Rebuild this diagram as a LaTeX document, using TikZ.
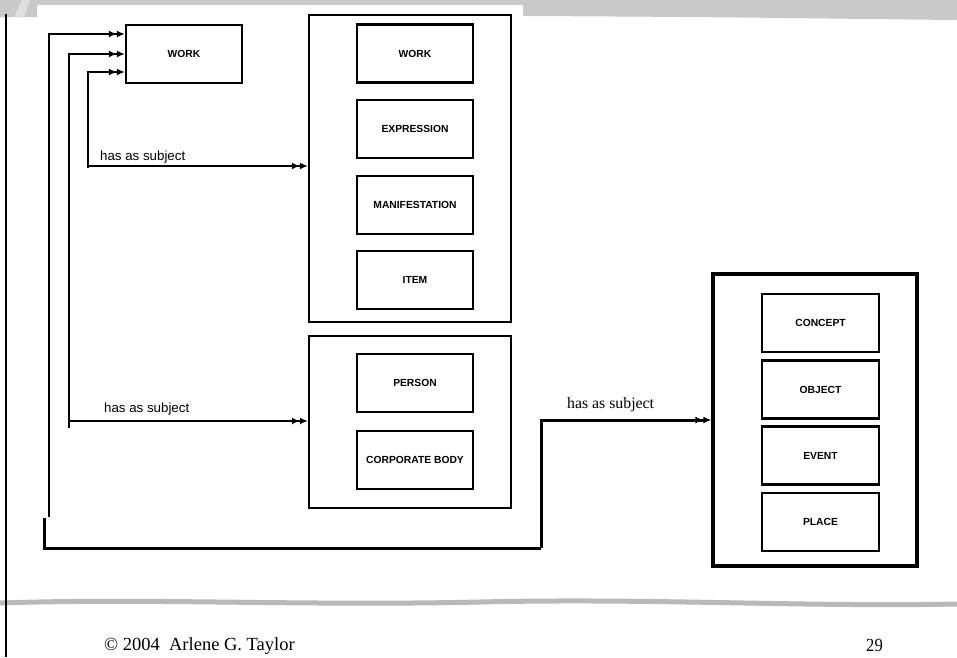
\documentclass[tikz,border=0pt]{standalone}
\usepackage{fontspec}
\setmainfont{Liberation Serif}
\newfontfamily\arialf{Liberation Sans}
\usetikzlibrary{arrows.meta}
\tikzset{
  ent/.style={draw, line width=2.2pt, inner sep=0pt, minimum width=116pt, minimum height=58pt,
    font=\arialf\bfseries\fontsize{10.3}{12}\selectfont},
  grp/.style={draw, line width=2.2pt, inner sep=0pt},
  grpthick/.style={draw, line width=3.2pt, inner sep=0pt},
  conn/.style={line width=2.2pt},
  arr/.style={line width=2.2pt, -{Latex[length=8pt,width=7pt,sep=0pt]Latex[length=8pt,width=7pt]}},
  arrthick/.style={line width=3pt, -{Latex[length=8pt,width=7pt,sep=0pt]Latex[length=8pt,width=7pt]}},
  lblsans/.style={font=\arialf\fontsize{13.3}{15}\selectfont, inner sep=0pt},
  lblserif/.style={font=\fontsize{15.8}{18}\selectfont, inner sep=0pt},
  foot/.style={font=\fontsize{18.5}{21}\selectfont, inner sep=0pt}
}
\begin{document}
\begin{tikzpicture}[x=1pt,y=-1pt]
\useasboundingbox (0,0) rectangle (957,657);
\fill[white] (0,0) rectangle (957,657);
% top decorative band
\fill[gray!42] (0,0) -- (957,0) -- (957,20) .. controls (850,19) and (750,17) .. (523,16) -- (523,5) -- (37,5) -- (37,17) -- (0,17) -- cycle;
\fill[gray!25] (14,17) -- (22,0) -- (30,0) -- (24,17) -- cycle;
% bottom decorative band
\draw[gray!55, line width=5pt, line cap=round]
  (0,603) .. controls (150,598) and (300,606) .. (480,602)
  .. controls (650,598) and (800,607) .. (957,604);
% left border
\draw[black, line width=2pt] (6,14) -- (6,657);

% entities
\node[ent] (work0) at (184,54) {WORK};

\node[grp, minimum width=202pt, minimum height=307pt] (g1) at (410,168.5) {};
\node[ent] (w1) at (415,53.5) {WORK};
\node[ent] (expr) at (415,129) {EXPRESSION};
\node[ent] (manif) at (415,205) {MANIFESTATION};
\node[ent] (item) at (415,280) {ITEM};

\node[grp, minimum width=202pt, minimum height=172pt] (g2) at (410,422) {};
\node[ent] (person) at (415,383) {PERSON};
\node[ent] (corp) at (415,460) {CORPORATE BODY};

\node[grpthick, minimum width=204pt, minimum height=292pt] (g3) at (815,420) {};
\node[ent, minimum width=117pt] (concept) at (820.5,323) {CONCEPT};
\node[ent, minimum width=117pt] (object) at (820.5,389.5) {OBJECT};
\node[ent, minimum width=117pt] (event) at (820.5,455.5) {EVENT};
\node[ent, minimum width=117pt] (place) at (820.5,522) {PLACE};

% connector coordinates
\coordinate (s1) at (49,517);
\coordinate (s2) at (69,428);
\coordinate (s3) at (88,168);
\coordinate (j2) at (69,421);
\coordinate (j3) at (88,166);
\coordinate (b0) at (44,518);
\coordinate (b1) at (541,548);

% connectors to WORK
\draw[arr] (s1) |- ([yshift=20pt]work0.west);
\draw[arr] (s2) |- (work0.west);
\draw[arr] (s3) |- ([yshift=-18pt]work0.west);
% has as subject to groups
\draw[arr] (j3) -- (g1.west |- j3);
\draw[arr] (j2) -- (g2.west |- j2);
% bottom path to group 3
\draw[conn, line width=3pt] (b0) |- (b1);
\draw[arrthick] (b1) |- (g3.west);

% labels
\node[lblsans, anchor=west] (l1) at (100,157) {has as subject};
\node[lblsans, anchor=west] (l2) at (104,409) {has as subject};
\node[lblserif, anchor=west] (l3) at (567,405) {has as subject};

% footer
\node[foot, anchor=west] (ft) at (104,646) {\textcopyright{} 2004\ \ Arlene G. Taylor};
\node[foot, anchor=west, xscale=0.9] (pg) at (866,645) {29};
\end{tikzpicture}
\end{document}
